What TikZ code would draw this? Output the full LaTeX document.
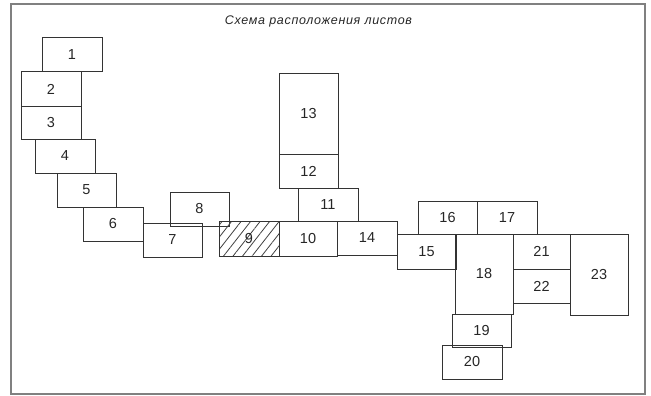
\documentclass[tikz,border=0pt]{standalone}
\usepackage{fontspec}
\setmainfont{Liberation Sans}
\usetikzlibrary{patterns.meta}

\tikzset{
  sheet/.style={draw=black!80, line width=1pt, inner sep=0pt,
    minimum width=60, minimum height=34, text=black!85,
    font=\fontsize{14.5}{15}\selectfont},
  tallsheet/.style={sheet, minimum width=59, minimum height=80},
  hatched/.style={pattern={Lines[angle=52, distance=7.5pt, line width=0.8pt]},
    pattern color=black!75}
}

\begin{document}
\begin{tikzpicture}[x=1pt, y=-1pt]
    \useasboundingbox (0,0) rectangle (651,396);

    % Frame
    \draw[black!50, line width=2pt] (11,4) rectangle (645,394);

    % Title
    \node[font=\fontsize{12.5}{13}\itshape\addfontfeature{LetterSpace=5.5},
      text=black!85] (title) at (318.5,21) {Схема расположения листов};

    % Left chain
    \node[sheet] (s1) at (72,55) {1};
    \node[sheet] (s2) at (51,89) {2};
    \node[sheet, minimum height=33] (s3) at (51,122.5) {3};
    \node[sheet] (s4) at (65,156) {4};
    \node[sheet, minimum width=59] (s5) at (86.5,190) {5};
    \node[sheet] (s6) at (113,224) {6};
    \node[sheet, minimum width=59] (s7) at (172.5,240) {7};
    \node[sheet, minimum width=59] (s8) at (199.5,209) {8};

    % Hatched sheet
    \node[sheet, hatched, minimum height=35] (s9) at (249,238.5) {9};

    % Middle column
    \node[sheet, minimum width=58, minimum height=35] (s10) at (308,238.5) {10};
    \node[sheet, minimum height=33] (s11) at (328,204.5) {11};
    \node[sheet, minimum width=59] (s12) at (308.5,171) {12};
    \node[tallsheet] (s13) at (308.5,114) {13};
    \node[sheet] (s14) at (367,238) {14};

    % Right group
    \node[sheet, minimum width=59, minimum height=35] (s15) at (426.5,251.5) {15};
    \node[sheet, minimum width=59, minimum height=33] (s16) at (447.5,217.5) {16};
    \node[sheet, minimum height=33] (s17) at (507,217.5) {17};
    \node[tallsheet, minimum width=58] (s18) at (484,274) {18};
    \node[sheet, minimum width=59, minimum height=33] (s19) at (481.5,330.5) {19};
    \node[sheet] (s20) at (472,362) {20};
    \node[sheet, minimum width=57, minimum height=35] (s21) at (541.5,251.5) {21};
    \node[sheet, minimum width=57] (s22) at (541.5,286) {22};
    \node[tallsheet, minimum width=58, minimum height=81] (s23) at (599,274.5) {23};
\end{tikzpicture}
\end{document}
